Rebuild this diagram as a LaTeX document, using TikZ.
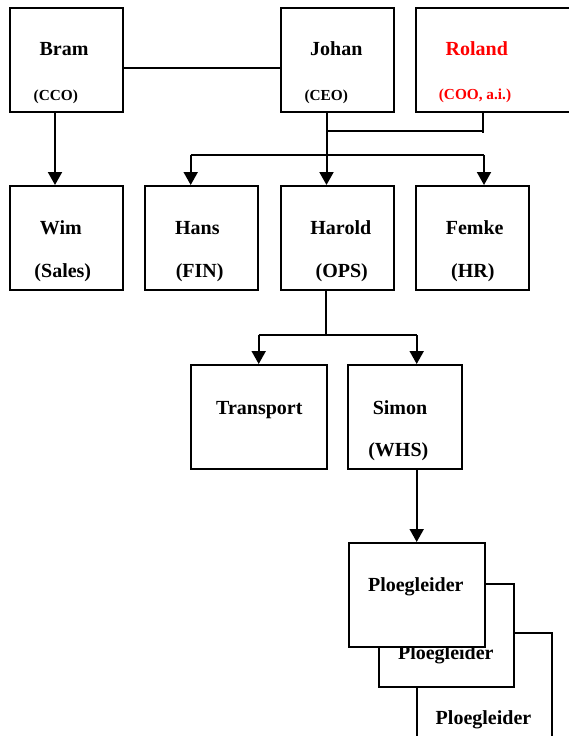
\documentclass[tikz,border=0pt]{standalone}
\usepackage{fontspec}
\setmainfont{Liberation Serif}
\usetikzlibrary{arrows.meta,calc}
\definecolor{acting}{RGB}{255,0,0}
\tikzset{
  unit/.style={draw, line width=2pt, fill=white, rectangle, inner sep=0pt,
               minimum width=113pt, minimum height=104pt},
  wideunit/.style={unit, minimum width=136pt},
  nametext/.style={anchor=base, inner sep=0pt, font=\fontsize{20}{23}\selectfont\bfseries},
  roletext/.style={anchor=base, inner sep=0pt, font=\fontsize{15.3}{18}\selectfont\bfseries},
  deptrole/.style={nametext},
  link/.style={line width=2pt},
  arr/.style={line width=2pt, -{Triangle[width=14pt,length=13pt]}}
}
\begin{document}
\begin{tikzpicture}[x=1pt,y=-1pt]
\useasboundingbox (0,0) rectangle (568,736);

% --- board level
\node[unit] (bram)  at (66.5,60) {};
\node[unit] (johan) at (337.5,60) {};
\node[unit, minimum width=190pt] (roland) at (511,60) {};
\node[nametext] (bramN)  at (64,55) {Bram};
\node[roletext] (bramR)  at (55.8,100) {(CCO)};
\node[nametext] (johanN) at (336.3,55) {Johan};
\node[roletext] (johanR) at (326.2,100) {(CEO)};
\node[nametext, text=acting] (rolandN) at (476.8,55) {Roland};
\node[roletext, text=acting] (rolandR) at (475,99.5) {(COO, a.i.)};

% --- department heads
\node[unit] (wim)    at (66.5,238) {};
\node[unit] (hans)   at (201.5,238) {};
\node[unit] (harold) at (337.5,238) {};
\node[unit] (femke)  at (472.5,238) {};
\node[nametext] (wimN)    at (60.8,234.3) {Wim};
\node[deptrole] (wimR)    at (62.8,277) {(Sales)};
\node[nametext] (hansN)   at (197.3,234.3) {Hans};
\node[deptrole] (hansR)   at (199.7,277) {(FIN)};
\node[nametext] (haroldN) at (340.8,234.3) {Harold};
\node[deptrole] (haroldR) at (341.7,277) {(OPS)};
\node[nametext] (femkeN)  at (474.7,234.3) {Femke};
\node[deptrole] (femkeR)  at (472.8,277) {(HR)};

% --- operations
\node[wideunit] (transport) at (258.7,417) {};
\node[unit, minimum width=113.4pt] (simon) at (405,417) {};
\node[nametext] (transportN) at (259.3,414) {Transport};
\node[nametext] (simonN)     at (400,414) {Simon};
\node[deptrole] (simonR)     at (398.3,456.7) {(WHS)};

% --- team leaders, stacked back to front
\node[wideunit, minimum width=135pt] (ploeg3) at (484.2,685.3) {};
\node[nametext] (ploeg3N) at (483.5,724) {Ploegleider};
\node[wideunit, minimum width=135.3pt, minimum height=103.3pt] (ploeg2) at (446.7,635.7) {};
\node[nametext] (ploeg2N) at (445.8,659.3) {Ploegleider};
\node[wideunit] (ploeg1) at (416.7,595) {};
\node[nametext] (ploeg1N) at (415.8,591.7) {Ploegleider};

% --- connectors
\draw[link] ($(bram.east)+(0,8)$) -- ($(johan.west)+(0,8)$);
\draw[arr] ([xshift=-11.5pt]bram.south) -- ([xshift=-11.5pt]wim.north);

% CEO and COO joined, then down to the department heads
\coordinate (ceoOut)  at ([xshift=-11pt]johan.south);
\coordinate (cooOut)  at ($(roland.west|-roland.south)+(68,0)$);
\coordinate (ceoJoin) at ($(ceoOut)+(0,17.5)$);
\coordinate (cooDrop) at ($(cooOut)+(0,19.5)$);
\draw[link] (ceoJoin) -- (ceoJoin -| cooOut);
\draw[link] (cooOut) -- (cooDrop);
\draw[arr] (ceoOut) -- ([xshift=-11pt]harold.north);

\coordinate (hansIn)  at ([xshift=-10.8pt]hans.north);
\coordinate (femkeIn) at ([xshift=11.5pt]femke.north);
\coordinate (deptBus) at ($(johan.south)+(0,42.3)$);
\draw[link] (deptBus -| hansIn) -- (deptBus -| femkeIn);
\draw[arr] (deptBus -| hansIn) -- (hansIn);
\draw[arr] (deptBus -| femkeIn) -- (femkeIn);

% operations split
\coordinate (opsOut)  at ([xshift=-11.8pt]harold.south);
\coordinate (simonIn) at ([xshift=11.7pt]simon.north);
\coordinate (opsBus)  at ($(opsOut)+(0,44.3)$);
\draw[link] (opsOut) -- (opsBus);
\draw[link] (opsBus -| transport.north) -- (opsBus -| simonIn);
\draw[arr] (opsBus -| transport.north) -- (transport.north);
\draw[arr] (opsBus -| simonIn) -- (simonIn);

\draw[arr] ([xshift=11.7pt]simon.south) -- (ploeg1.north);
\end{tikzpicture}
\end{document}
